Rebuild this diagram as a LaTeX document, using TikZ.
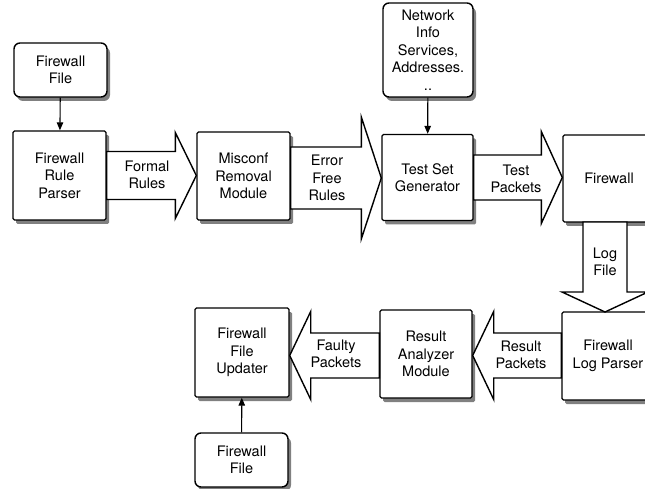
\documentclass[tikz,border=0pt]{standalone}
\usepackage{fontspec}
\setmainfont{TeX Gyre Heros}
\usetikzlibrary{calc,shadows,arrows.meta}
\pgfdeclarelayer{shadowlayer}
\pgfdeclarelayer{toplayer}
\pgfsetlayers{shadowlayer,main,toplayer}

% Block arrow from tail point #2 to tip point #3, with shaft half width #4,
% head half width #5 and head length #6, drawn with style #1
\newcommand\blockarrow[6]{%
  \coordinate (ba-base) at ($(#3)!#6!(#2)$);
  \path[#1] ($(#2)!#4!90:(#3)$) -- ($(ba-base)!#4!-90:(#2)$)
    -- ($(ba-base)!#5!-90:(#2)$) -- (#3) -- ($(ba-base)!#5!90:(#2)$)
    -- ($(ba-base)!#4!90:(#2)$) -- ($(#2)!#4!-90:(#3)$) -- cycle;}

\begin{document}
\begin{tikzpicture}[x=1pt,y=-1pt,
  txt/.style={font=\fontsize{14.5}{17.5}\selectfont},
  box/.style={txt,draw,line width=1.4pt,fill=white,align=center,inner sep=0pt,
    rounded corners=1.5pt,
    drop shadow={shadow xshift=3pt,shadow yshift=-4pt,fill=black!50,opacity=1}},
  filebox/.style={box,rounded corners=6pt},
  blockbody/.style={draw,line width=1.4pt,fill=white,line join=miter},
  blockshadow/.style={fill=black!50,shift={(3pt,-4pt)}},
  lbl/.style={txt,align=center,inner sep=0pt},
  feed/.style={line width=1.1pt,-{Triangle[length=8pt,width=6.5pt]}}]

\clip (0,0) rectangle (645,489);
\fill[white] (0,0) rectangle (645,489);

% processing blocks and input files
\node[filebox,minimum width=93pt,minimum height=54pt] (ff1) at (60.5,70) {Firewall\\File};
\node[box,minimum width=93pt,minimum height=89pt] (frp) at (59.5,175.5) {Firewall\\Rule\\Parser};
\node[box,minimum width=93pt,minimum height=88pt] (mrm) at (243.5,176) {Misconf\\Removal\\Module};
\node[filebox,minimum width=90pt,minimum height=94pt] (ni) at (428,50) {Network\\Info\\Services,\\Addresses.\\..};
\node[box,minimum width=91pt,minimum height=86pt] (tsg) at (427.5,177.5) {Test Set\\Generator};
\node[box,minimum width=92pt,minimum height=87pt] (fw) at (609,178.5) {Firewall};
\node[box,minimum width=92pt,minimum height=88pt] (flp) at (608,356) {Firewall\\Log Parser};
\node[box,minimum width=92pt,minimum height=88pt] (ram) at (426,354) {Result\\Analyzer\\Module};
\node[box,minimum width=94pt,minimum height=89pt] (ffu) at (242,352.5) {Firewall\\File\\Updater};
\node[filebox,minimum width=93pt,minimum height=54pt] (ff2) at (241.5,460) {Firewall\\File};

% thin feed arrows
\draw[feed] (ff1) -- (frp);
\draw[feed] (ni) -- (tsg);
\draw[feed] (ff2) -- (ffu);

% end points of the block arrows
\coordinate (a1t) at (frp.east);
\coordinate (a1h) at (mrm.west |- frp.east);
\coordinate (a2t) at ($(mrm.east)+(0,2)$);
\coordinate (a2h) at (tsg.west |- a2t);
\coordinate (a3t) at (tsg.east);
\coordinate (a3h) at (fw.west |- tsg.east);
\coordinate (a4t) at (605,222);
\coordinate (a4h) at (605,312);
\coordinate (a5t) at ($(flp.west)+(0,-0.5)$);
\coordinate (a5h) at (ram.east |- a5t);
\coordinate (a6t) at (ram.west |- a5t);
\coordinate (a6h) at (ffu.east |- a5t);

\begin{pgfonlayer}{shadowlayer}
  \blockarrow{blockshadow}{a1t}{a1h}{24pt}{43pt}{21pt}
  \blockarrow{blockshadow}{a2t}{a2h}{31pt}{61pt}{20pt}
  \blockarrow{blockshadow}{a3t}{a3h}{22.5pt}{46pt}{21pt}
  \blockarrow{blockshadow}{a4t}{a4h}{22pt}{43pt}{20pt}
  \blockarrow{blockshadow}{a5t}{a5h}{22.5pt}{44pt}{21pt}
  \blockarrow{blockshadow}{a6t}{a6h}{22.5pt}{44pt}{21pt}
\end{pgfonlayer}

\begin{pgfonlayer}{toplayer}
  \blockarrow{blockbody}{a1t}{a1h}{24pt}{43pt}{21pt}
  \blockarrow{blockbody}{a2t}{a2h}{31pt}{61pt}{20pt}
  \blockarrow{blockbody}{a3t}{a3h}{22.5pt}{46pt}{21pt}
  \blockarrow{blockbody}{a4t}{a4h}{22pt}{43pt}{20pt}
  \blockarrow{blockbody}{a5t}{a5h}{22.5pt}{44pt}{21pt}
  \blockarrow{blockbody}{a6t}{a6h}{22.5pt}{44pt}{21pt}

  \node[lbl] (l1) at (147,175) {Formal\\Rules};
  \node[lbl] (l2) at (327,178) {Error\\Free\\Rules};
  \node[lbl] (l3) at (516,179) {Test\\Packets};
  \node[lbl] (l4) at (605,262) {Log\\File};
  \node[lbl] (l5) at (521,355) {Result\\Packets};
  \node[lbl] (l6) at (336,354) {Faulty\\Packets};
\end{pgfonlayer}
\end{tikzpicture}
\end{document}
